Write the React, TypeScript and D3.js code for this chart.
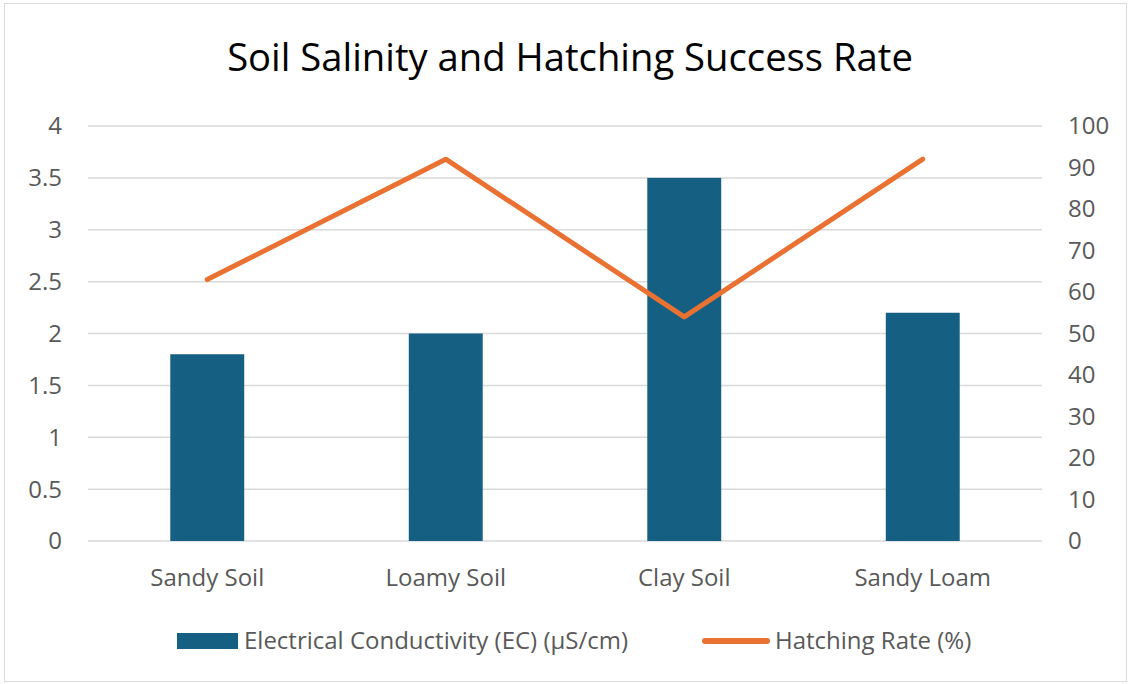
import { useEffect, useRef } from 'react'
import * as d3 from 'd3'

const categories = ['Sandy Soil', 'Loamy Soil', 'Clay Soil', 'Sandy Loam']
const ecValues = [1.8, 2.0, 3.5, 2.2]
const hatchingRates = [63, 92, 54, 92]
const leftTicks = [0, 0.5, 1, 1.5, 2, 2.5, 3, 3.5, 4]
const rightTicks = [0, 10, 20, 30, 40, 50, 60, 70, 80, 90, 100]
const seriesNames = ['Electrical Conductivity (EC) (µS/cm)', 'Hatching Rate (%)']
const chartTitle = 'Soil Salinity and Hatching Success Rate'

const BAR_COLOR = '#156082'
const LINE_COLOR = '#E97132'
const TEXT_COLOR = '#595959'
const FONT = '"Open Sans", Lato, sans-serif'

export default function App() {
  const svgRef = useRef<SVGSVGElement>(null)

  useEffect(() => {
    if (!svgRef.current) return
    const width = 1130
    const height = 684
    const margin = { top: 126, right: 88, bottom: 143, left: 88 }

    const svg = d3.select(svgRef.current)
    svg.selectAll('*').remove()

    // mesure de la taille de police pour coller aux largeurs
    const probe = svg.append('text')
      .attr('font-family', FONT)
      .attr('font-size', 20)
      .text(seriesNames[0])
    const baseW = (probe.node() as SVGTextElement).getComputedTextLength() || 330
    const labelSize = Math.min(24, Math.max(18, 20 * 406 / baseW))
    probe.attr('font-size', 30).text(chartTitle)
    const titleW = (probe.node() as SVGTextElement).getComputedTextLength() || 600
    const titleSize = Math.min(40, Math.max(28, 30 * 686 / titleW))
    probe.remove()

    // fond + bordure
    svg.append('rect')
      .attr('x', 4.5).attr('y', 3.5)
      .attr('width', width - 8).attr('height', height - 6)
      .attr('fill', 'white')
      .attr('stroke', '#d9d9d9')
      .attr('stroke-width', 1)

    const x = d3.scaleBand()
      .domain(categories)
      .range([margin.left, width - margin.right])
      .padding(0)

    const yLeft = d3.scaleLinear()
      .domain([0, 4])
      .range([height - margin.bottom, margin.top])

    const yRight = d3.scaleLinear()
      .domain([0, 100])
      .range([height - margin.bottom, margin.top])

    // titre
    svg.append('text')
      .attr('x', 570)
      .attr('y', 71)
      .attr('text-anchor', 'middle')
      .attr('font-family', FONT)
      .attr('font-size', titleSize)
      .attr('fill', '#000')
      .text(chartTitle)

    // grille
    svg.append('g')
      .selectAll('line')
      .data(leftTicks)
      .join('line')
      .attr('x1', margin.left)
      .attr('x2', width - margin.right)
      .attr('y1', d => yLeft(d))
      .attr('y2', d => yLeft(d))
      .attr('stroke', '#d9d9d9')
      .attr('stroke-width', 1.5)

    // axe gauche
    svg.append('g')
      .selectAll('text')
      .data(leftTicks)
      .join('text')
      .attr('x', 62)
      .attr('y', d => yLeft(d))
      .attr('dy', '0.35em')
      .attr('text-anchor', 'end')
      .attr('font-family', FONT)
      .attr('font-size', labelSize)
      .attr('fill', TEXT_COLOR)
      .text(d => String(d))

    // axe droit
    svg.append('g')
      .selectAll('text')
      .data(rightTicks)
      .join('text')
      .attr('x', 1068)
      .attr('y', d => yRight(d))
      .attr('dy', '0.35em')
      .attr('text-anchor', 'start')
      .attr('font-family', FONT)
      .attr('font-size', labelSize)
      .attr('fill', TEXT_COLOR)
      .text(d => String(d))

    // barres
    const barW = x.bandwidth() * 0.31
    svg.append('g')
      .selectAll('rect')
      .data(ecValues)
      .join('rect')
      .attr('x', (d, i) => x(categories[i])! + x.bandwidth() / 2 - barW / 2)
      .attr('y', d => yLeft(d))
      .attr('width', barW)
      .attr('height', d => yLeft(0) - yLeft(d))
      .attr('fill', BAR_COLOR)

    // ligne
    const line = d3.line<number>()
      .x((d, i) => x(categories[i])! + x.bandwidth() / 2)
      .y(d => yRight(d))

    svg.append('path')
      .datum(hatchingRates)
      .attr('d', line)
      .attr('fill', 'none')
      .attr('stroke', LINE_COLOR)
      .attr('stroke-width', 5)
      .attr('stroke-linejoin', 'round')
      .attr('stroke-linecap', 'round')

    // catégories
    svg.append('g')
      .selectAll('text')
      .data(categories)
      .join('text')
      .attr('x', d => x(d)! + x.bandwidth() / 2)
      .attr('y', 578)
      .attr('dy', '0.35em')
      .attr('text-anchor', 'middle')
      .attr('font-family', FONT)
      .attr('font-size', labelSize)
      .attr('fill', TEXT_COLOR)
      .text(d => d)

    // légende
    const legend = svg.append('g')
    legend.append('rect')
      .attr('x', 177).attr('y', 633)
      .attr('width', 61).attr('height', 16)
      .attr('fill', BAR_COLOR)
    legend.append('text')
      .attr('x', 244).attr('y', 641)
      .attr('dy', '0.35em')
      .attr('font-family', FONT)
      .attr('font-size', labelSize)
      .attr('fill', TEXT_COLOR)
      .text(seriesNames[0])
    legend.append('line')
      .attr('x1', 705).attr('x2', 767)
      .attr('y1', 641).attr('y2', 641)
      .attr('stroke', LINE_COLOR)
      .attr('stroke-width', 6)
      .attr('stroke-linecap', 'round')
    legend.append('text')
      .attr('x', 775).attr('y', 641)
      .attr('dy', '0.35em')
      .attr('font-family', FONT)
      .attr('font-size', labelSize)
      .attr('fill', TEXT_COLOR)
      .text(seriesNames[1])
  }, [])

  return (
    <svg
      ref={svgRef}
      width={1130}
      height={684}
      style={{ position: 'absolute', left: 0, top: 0, display: 'block' }}
    />
  )
}
